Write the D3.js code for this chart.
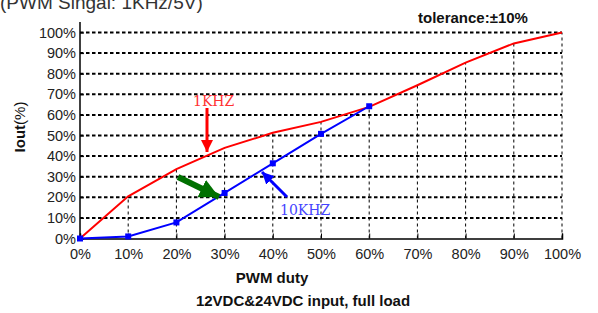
<!DOCTYPE html>
<html>
<head>
<meta charset="utf-8">
<script src="https://cdn.jsdelivr.net/npm/d3@7"></script>
<style>
  body { margin: 0; background: #fff; }
  svg { display: block; font-family: "Liberation Sans", Arial, sans-serif; }
</style>
</head>
<body>
<svg id="chart" width="598" height="313"></svg>
<script>
// duty cycle ticks and the two curves
var duty = [0, 10, 20, 30, 40, 50, 60, 70, 80, 90, 100];
var iout1k = [0, 20.5, 33.7, 44, 51.3, 56.6, 63.9, 74.4, 85.4, 94.7, 100];
var duty10k = [0, 10, 20, 30, 40, 50, 60];
var iout10k = [0, 1, 7.8, 22.1, 36.5, 50.8, 64.2];
var yTicks = [0, 10, 20, 30, 40, 50, 60, 70, 80, 90, 100];

var svg = d3.select("#chart");
var x = d3.scaleLinear().domain([0, 100]).range([80, 562]);
var y = d3.scaleLinear().domain([0, 100]).range([238.5, 32.5]);

// header texts (the first one is clipped by the top edge, as in the source)
svg.append("text").attr("x", 0).attr("y", 9)
  .attr("font-size", 19).attr("fill", "#333")
  .text("(PWM Singal: 1KHz/5V)");
svg.append("text").attr("x", 418).attr("y", 23)
  .attr("font-size", 15).attr("font-weight", "bold").attr("fill", "#111")
  .text("tolerance:\u00b110%");

// horizontal grid
svg.append("g").selectAll("line").data(yTicks.slice(1)).join("line")
  .attr("x1", x(0)).attr("x2", x(100))
  .attr("y1", function(d){ return y(d); }).attr("y2", function(d){ return y(d); })
  .attr("stroke", "#000").attr("stroke-width", 2).attr("stroke-dasharray", "3.5,2.5");

// vertical grid, from axis up to the 1KHz curve
svg.append("g").selectAll("line").data(duty.slice(1)).join("line")
  .attr("x1", function(d){ return x(d); }).attr("x2", function(d){ return x(d); })
  .attr("y1", y(0)).attr("y2", function(d, i){ return y(iout1k[i + 1]); })
  .attr("stroke", "#000").attr("stroke-width", 1).attr("stroke-dasharray", "3,3");

// axes
var pct = function(d){ return d + "%"; };
var gx = svg.append("g").attr("transform", "translate(0," + y(0) + ")")
  .call(d3.axisBottom(x).tickValues(duty).tickFormat(pct).tickSize(-5).tickPadding(10));
var gy = svg.append("g").attr("transform", "translate(" + x(0) + ",0)")
  .call(d3.axisLeft(y).tickValues(yTicks).tickFormat(pct).tickSize(-4).tickPadding(4));
[gx, gy].forEach(function(g){
  g.select(".domain").attr("stroke", "#000").attr("stroke-width", 1.5);
  g.selectAll(".tick line").attr("stroke", "#000");
  g.selectAll("text").attr("font-size", 14.5).attr("fill", "#222")
    .attr("font-family", "Liberation Sans, Arial, sans-serif");
});
gy.select(".domain").attr("d", "M0," + 22 + "V" + y(0));

// axis titles
svg.append("text").attr("transform", "translate(25,127) rotate(-90)")
  .attr("text-anchor", "middle").attr("font-size", 15).attr("fill", "#111")
  .html('<tspan font-weight="bold">Iout</tspan>(%)');
svg.append("text").attr("x", 272).attr("y", 283).attr("text-anchor", "middle")
  .attr("font-size", 15).attr("font-weight", "bold").attr("fill", "#111")
  .text("PWM duty");
svg.append("text").attr("x", 303).attr("y", 306).attr("text-anchor", "middle")
  .attr("font-size", 15).attr("font-weight", "bold").attr("fill", "#111")
  .text("12VDC&24VDC input, full load");

// curves
var line = d3.line().x(function(d){ return x(d[0]); }).y(function(d){ return y(d[1]); });
svg.append("path").datum(d3.zip(duty, iout1k)).attr("d", line)
  .attr("fill", "none").attr("stroke", "#ff0000").attr("stroke-width", 2);
var blue = d3.zip(duty10k, iout10k);
svg.append("path").datum(blue).attr("d", line)
  .attr("fill", "none").attr("stroke", "#0000ff").attr("stroke-width", 2);
svg.append("g").selectAll("rect").data(blue).join("rect")
  .attr("x", function(d){ return x(d[0]) - 3; }).attr("y", function(d){ return y(d[1]) - 3; })
  .attr("width", 6).attr("height", 6).attr("fill", "#0000ff");

// annotations
var defs = svg.append("defs");
function head(id, color, size){
  defs.append("marker").attr("id", id).attr("viewBox", "0 0 10 10")
    .attr("refX", 10).attr("refY", 5).attr("markerWidth", size).attr("markerHeight", size)
    .attr("markerUnits", "strokeWidth").attr("orient", "auto")
    .append("path").attr("d", "M0,0L10,5L0,10Z").attr("fill", color);
}
head("hr", "#ff0000", 4); head("hb", "#0000ff", 4); head("hg", "#007000", 3.2);

svg.append("text").attr("x", 193).attr("y", 106).attr("font-size", 14)
  .attr("font-family", "DejaVu Serif, serif").attr("fill", "#ff3333").text("1KHZ");
svg.append("line").attr("x1", 207).attr("y1", 108).attr("x2", 207).attr("y2", 152)
  .attr("stroke", "#ff0000").attr("stroke-width", 3).attr("marker-end", "url(#hr)");

svg.append("text").attr("x", 280).attr("y", 215).attr("font-size", 14)
  .attr("font-family", "DejaVu Serif, serif").attr("fill", "#4444ff").text("10KHZ");
svg.append("line").attr("x1", 287).attr("y1", 197).attr("x2", 262).attr("y2", 172)
  .attr("stroke", "#0000ff").attr("stroke-width", 3).attr("marker-end", "url(#hb)");

svg.append("line").attr("x1", 178).attr("y1", 177).attr("x2", 219).attr("y2", 197)
  .attr("stroke", "#007000").attr("stroke-width", 6).attr("marker-end", "url(#hg)")
  .attr("stroke-linecap", "butt");
</script>
</body>
</html>
